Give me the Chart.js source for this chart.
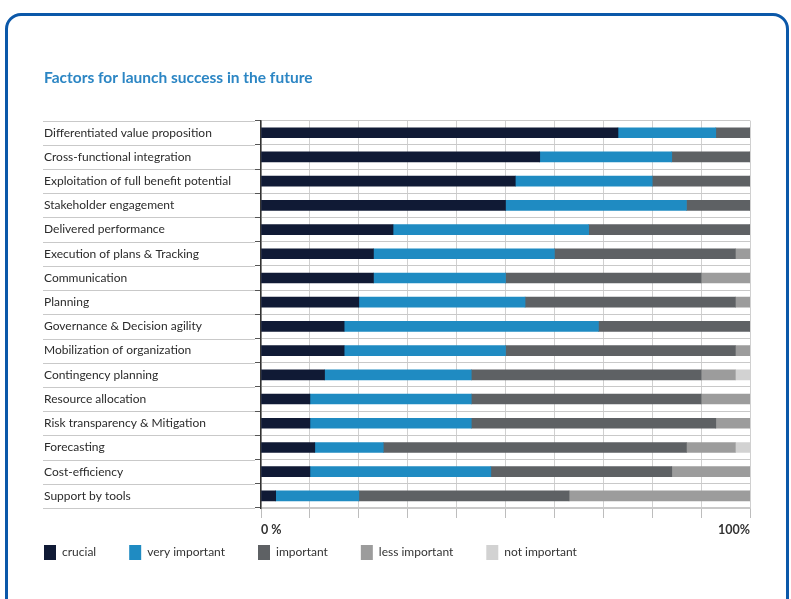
<!DOCTYPE html>
<html>
<head>
<meta charset="utf-8">
<script src="https://cdn.jsdelivr.net/npm/chart.js@4"></script>
<style>
  html, body { margin: 0; padding: 0; background: #fff; }
  body { width: 791px; height: 599px; position: relative; overflow: hidden; }
  .frame {
    position: absolute; left: 5px; top: 13px; width: 778px; height: 620px;
    border: 3px solid #0b58a9; border-radius: 16px;
  }
  #chart { position: absolute; left: 0; top: 0; }
</style>
</head>
<body>
<div class="frame"></div>
<canvas id="chart" width="791" height="599"></canvas>
<script>
const categories = [
  'Differentiated value proposition',
  'Cross-functional integration',
  'Exploitation of full benefit potential',
  'Stakeholder engagement',
  'Delivered performance',
  'Execution of plans & Tracking',
  'Communication',
  'Planning',
  'Governance & Decision agility',
  'Mobilization of organization',
  'Contingency planning',
  'Resource allocation',
  'Risk transparency & Mitigation',
  'Forecasting',
  'Cost-efficiency',
  'Support by tools'
];

// share of answers in %, one value per category
const crucial       = [73, 57, 52, 50, 27, 23, 23, 20, 17, 17, 13, 10, 10, 11, 10, 3];
const veryImportant = [20, 27, 28, 37, 40, 37, 27, 34, 52, 33, 30, 33, 33, 14, 37, 17];
const important     = [7, 16, 20, 13, 33, 37, 40, 43, 31, 47, 47, 47, 50, 62, 37, 43];
const lessImportant = [0, 0, 0, 0, 0, 3, 10, 3, 0, 3, 7, 10, 7, 10, 16, 37];
const notImportant  = [0, 0, 0, 0, 0, 0, 0, 0, 0, 0, 3, 0, 0, 3, 0, 0];

const xTicks = ['0 %', '100%'];

const FONT = 'Lato, "Liberation Sans", sans-serif';
const LEFT = 44;     // left edge of labels, title and legend
const AXIS_X = 261;  // where the bars start
const LEGEND_PAD = 33;
const LEGEND_LIFT = 29;

const series = [
  { label: 'crucial', data: crucial, color: '#101a35' },
  { label: 'very important', data: veryImportant, color: '#1f8bc2' },
  { label: 'important', data: important, color: '#5e6164' },
  { label: 'less important', data: lessImportant, color: '#9c9c9c' },
  { label: 'not important', data: notImportant, color: '#d2d2d2' }
];

// thin separators under the category labels, on the row boundaries
const rowLines = {
  id: 'rowLines',
  beforeDatasetsDraw(chart) {
    const y = chart.scales.y;
    const ctx = chart.ctx;
    ctx.save();
    ctx.strokeStyle = '#c9c9c9';
    ctx.lineWidth = 1;
    for (let i = 0; i <= categories.length; i++) {
      const py = Math.round(y.getPixelForValue(i - 0.5)) + 0.5;
      ctx.beginPath();
      ctx.moveTo(LEFT - 1, py);
      ctx.lineTo(chart.chartArea.left - 6, py);
      ctx.stroke();
    }
    ctx.restore();
  }
};

// legend flush with the labels and sitting closer to the axis
const legendPlacement = {
  id: 'legendPlacement',
  afterLayout(chart) {
    const lg = chart.legend;
    lg.left -= LEGEND_PAD;
    lg.right -= LEGEND_PAD;
    lg.top -= LEGEND_LIFT;
    lg.bottom -= LEGEND_LIFT;
  }
};

const config = {
  type: 'bar',
  data: {
    labels: categories,
    datasets: series.map(s => ({
      label: s.label,
      data: s.data,
      backgroundColor: s.color,
      borderWidth: 0,
      barThickness: 10
    }))
  },
  options: {
    indexAxis: 'y',
    responsive: false,
    animation: false,
    layout: { padding: { left: LEFT, right: 41, top: 69, bottom: 0 } },
    plugins: {
      title: {
        display: true,
        text: 'Factors for launch success in the future',
        align: 'start',
        color: '#2c86c4',
        font: { family: FONT, size: 15.5, weight: 'bold' },
        padding: { top: 0, bottom: 33 }
      },
      legend: {
        position: 'bottom',
        align: 'start',
        labels: {
          boxWidth: 12,
          boxHeight: 15,
          padding: LEGEND_PAD,
          color: '#333',
          font: { family: FONT, size: 12 }
        }
      },
      tooltip: { enabled: false }
    },
    scales: {
      x: {
        stacked: true,
        min: 0,
        max: 100,
        grid: { color: '#d0d0d0', tickLength: 10, tickColor: '#bdbdbd' },
        border: { color: '#c9c9c9' },
        ticks: {
          stepSize: 10,
          align: 'inner',
          padding: 4,
          color: '#333',
          font: { family: FONT, size: 12.5, weight: 'bold' },
          callback: (v) => v === 0 ? xTicks[0] : (v === 100 ? xTicks[1] : '')
        }
      },
      y: {
        stacked: true,
        grid: { offset: true, color: '#c9c9c9', tickLength: 6, tickColor: '#555' },
        border: { color: '#333', width: 1.5 },
        ticks: {
          crossAlign: 'far',
          color: '#2b2b2b',
          font: { family: FONT, size: 12 }
        },
        afterFit(scale) { scale.width = AXIS_X - LEFT; }
      }
    }
  },
  plugins: [rowLines, legendPlacement]
};

const myChart = new Chart(document.getElementById('chart'), config);
</script>
</body>
</html>
